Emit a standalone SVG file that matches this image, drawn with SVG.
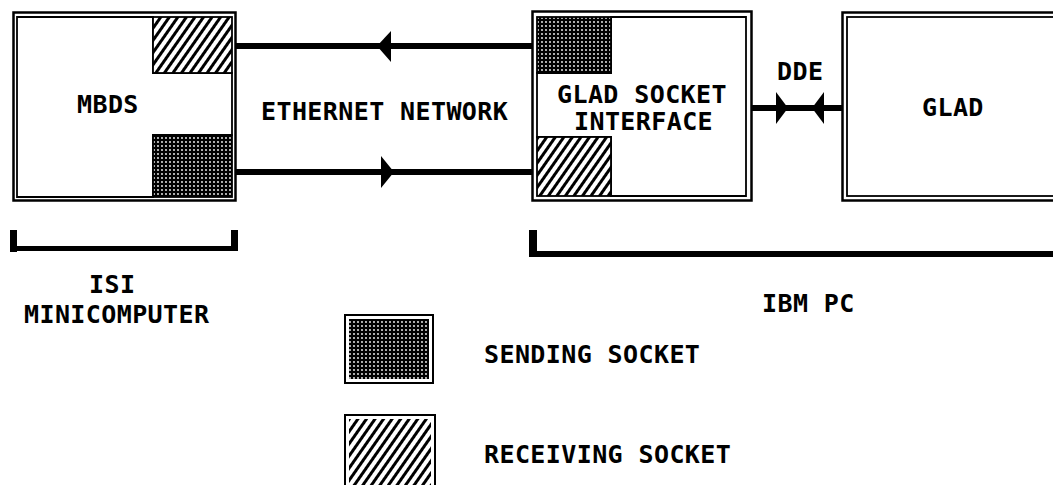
<svg xmlns="http://www.w3.org/2000/svg" width="1053" height="485" viewBox="0 0 1053 485">
<style>
.t{font-family:"DejaVu Sans Mono","Liberation Mono",monospace;font-weight:bold;font-size:25px;letter-spacing:0.4px;fill:#000}
.ob{fill:#fff;stroke:#000;stroke-width:2.5}
.ib{fill:none;stroke:#000;stroke-width:1.8}
.sk{stroke:#000;stroke-width:1.8}
.ln{stroke:#000;stroke-width:6;fill:none}
.br{fill:#000}
</style>
<defs>
<pattern id="hatch" width="7" height="7" patternUnits="userSpaceOnUse" patternTransform="rotate(35)">
<rect width="7" height="7" fill="#fff"/><rect width="3" height="7" fill="#000"/>
</pattern>
<pattern id="dots" width="4" height="4" patternUnits="userSpaceOnUse">
<rect width="4" height="4" fill="#000"/><circle cx="2" cy="2" r="0.9" fill="#fff"/>
</pattern>
</defs>
<rect width="1053" height="485" fill="#fff"/>

<g id="connectors">
<line class="ln" x1="236" y1="46" x2="532" y2="46"/>
<polygon points="377,46 391,31 391,62" fill="#000"/>
<line class="ln" x1="236" y1="172" x2="532" y2="172"/>
<polygon points="394,172 381,156 381,188" fill="#000"/>
<line class="ln" x1="751" y1="108" x2="842" y2="108"/>
<polygon points="788,108 776,92 776,124" fill="#000"/>
<polygon points="812,108 824,92 824,124" fill="#000"/>
</g>

<g id="mbds">
<rect class="ob" x="13.5" y="12.5" width="222" height="188"/>
<path class="ib" d="M17,17 H153 V73 H232 V135 H153 V197 H17 Z"/>
<rect class="sk" x="153" y="17" width="79" height="56" fill="url(#hatch)"/>
<rect class="sk" x="153" y="135" width="79" height="62" fill="url(#dots)"/>
<text class="t" x="77" y="113">MBDS</text>
</g>

<g id="ethernet-label">
<text class="t" x="261" y="120">ETHERNET NETWORK</text>
</g>

<g id="glad-socket-interface">
<rect class="ob" x="532.5" y="11.5" width="219" height="189"/>
<path class="ib" d="M611,17 H746 V196 H611 V137 H537 V73 H611 Z"/>
<rect class="sk" x="537" y="17" width="74" height="56" fill="url(#dots)"/>
<rect class="sk" x="537" y="137" width="74" height="59" fill="url(#hatch)"/>
<text class="t" x="557" y="103">GLAD SOCKET</text>
<text class="t" x="574" y="130">INTERFACE</text>
</g>

<g id="dde-label">
<text class="t" x="777" y="80">DDE</text>
</g>

<g id="glad">
<rect class="ob" x="842.5" y="12.5" width="220" height="188"/>
<rect class="ib" x="847" y="17" width="220" height="179"/>
<text class="t" x="922" y="116">GLAD</text>
</g>

<g id="isi-bracket">
<rect class="br" x="10" y="230" width="7" height="22"/>
<rect class="br" x="10" y="246" width="228" height="5"/>
<rect class="br" x="231" y="230" width="7" height="21"/>
<text class="t" x="89" y="293">ISI</text>
<text class="t" x="24" y="323">MINICOMPUTER</text>
</g>

<g id="ibm-bracket">
<rect class="br" x="529" y="230" width="8" height="27"/>
<rect class="br" x="529" y="251" width="524" height="6"/>
<text class="t" x="762" y="312">IBM PC</text>
</g>

<g id="legend-sending">
<rect x="345" y="315" width="88" height="68" fill="#fff" stroke="#000" stroke-width="2"/>
<rect x="349" y="319" width="80" height="60" fill="url(#dots)"/>
<text class="t" x="484" y="363">SENDING SOCKET</text>
</g>

<g id="legend-receiving">
<rect x="345" y="415" width="90" height="75" fill="#fff" stroke="#000" stroke-width="2"/>
<rect x="349" y="419" width="82" height="70" fill="url(#hatch)"/>
<text class="t" x="484" y="463">RECEIVING SOCKET</text>
</g>
</svg>
